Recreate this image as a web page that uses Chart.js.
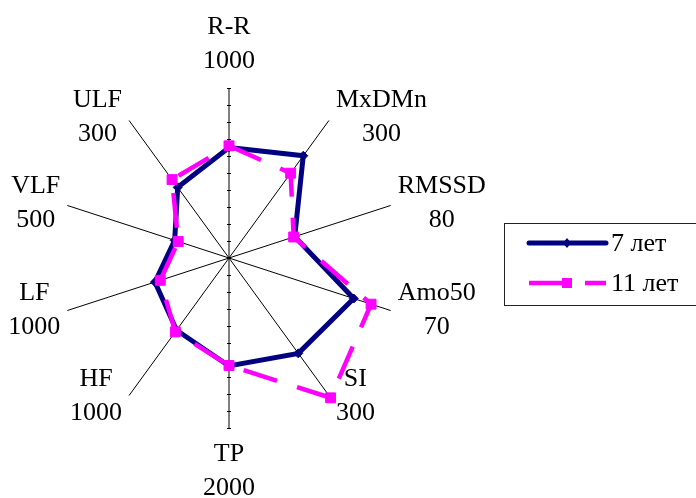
<!DOCTYPE html>
<html>
<head>
<meta charset="utf-8">
<script src="https://cdn.jsdelivr.net/npm/chart.js@4/dist/chart.umd.min.js"></script>
<style>
  html, body { margin: 0; padding: 0; background: #fff; }
</style>
</head>
<body>
<canvas id="radarChart" width="696" height="498"></canvas>
<script>
    const axisNames = ['R-R', 'MxDMn', 'RMSSD', 'Amo50', 'SI', 'TP', 'HF', 'LF', 'VLF', 'ULF'];
    const axisMax = [1000, 300, 80, 70, 300, 2000, 1000, 1000, 500, 300];
    const values7 = [650, 223, 32.5, 54, 208, 1270, 525, 458, 168, 154];
    const values11 = [660, 185, 32, 61.5, 305, 1265, 537, 425, 157, 171];
    const seriesNames = ['7 лет', '11 лет'];

    const labelFont = '26px "Liberation Serif", "Times New Roman", serif';

    // each axis has its own maximum, so plot share of that maximum
    const toShare = arr => arr.map((v, i) => v / axisMax[i]);

    function drawMarker(ctx, style, x, y, color) {
      ctx.fillStyle = color;
      ctx.beginPath();
      if (style === 'rectRot') {
        ctx.moveTo(x, y - 5); ctx.lineTo(x + 4, y); ctx.lineTo(x, y + 5); ctx.lineTo(x - 4, y);
        ctx.closePath();
      } else {
        ctx.rect(x - 5, y - 5, 10, 10);
      }
      ctx.fill();
    }

    const axisDecor = {
      id: 'axisDecor',
      beforeDatasetsDraw(chart) {
        const ctx = chart.ctx, r = chart.scales.r;
        ctx.save();
        ctx.strokeStyle = '#000';
        ctx.lineWidth = 1;
        // small tick marks on the vertical axis
        [0, 5].forEach(i => {
          for (let k = 1; k <= 10; k++) {
            const p = r.getPointPosition(i, r.drawingArea * k / 10);
            ctx.beginPath();
            ctx.moveTo(p.x - 2, Math.round(p.y) + 0.5);
            ctx.lineTo(p.x + 2, Math.round(p.y) + 0.5);
            ctx.stroke();
          }
        });
        ctx.restore();
      },
      afterDraw(chart) {
        const ctx = chart.ctx, r = chart.scales.r;
        ctx.save();
        ctx.font = labelFont;
        ctx.fillStyle = '#000';
        ctx.textBaseline = 'middle';
        ctx.textAlign = 'center';
        axisNames.forEach((name, i) => {
          const lines = [name, String(axisMax[i])];
          const a = i * 2 * Math.PI / axisNames.length;
          const s = Math.sin(a), c = Math.cos(a);
          const end = r.getPointPosition(i, r.drawingArea);
          const w = Math.max(...lines.map(t => ctx.measureText(t).width));
          let cx, cy;
          if (Math.abs(s) < 0.01) {
            cx = end.x;
            cy = c > 0 ? end.y - 44 : end.y + 43;
          } else {
            cx = s > 0 ? end.x + 7 + w / 2 : end.x - 7 - w / 2;
            cy = end.y - 1.5 - 2.5 * c;
          }
          ctx.fillText(lines[0], cx, cy - 17);
          ctx.fillText(lines[1], cx, cy + 17);
        });

        // legend box
        ctx.strokeStyle = '#222';
        ctx.lineWidth = 1;
        ctx.strokeRect(504.5, 223.5, 200, 82);
        const rows = [243, 283];
        chart.data.datasets.forEach((ds, k) => {
          const y = rows[k];
          ctx.save();
          ctx.strokeStyle = ds.borderColor;
          ctx.lineWidth = ds.borderWidth;
          ctx.lineCap = k === 0 ? 'round' : 'butt';
          ctx.setLineDash(ds.borderDash || []);
          ctx.beginPath();
          ctx.moveTo(529, y);
          ctx.lineTo(606, y);
          ctx.stroke();
          ctx.restore();
          drawMarker(ctx, ds.pointStyle, 567, y, ds.borderColor);
          ctx.fillStyle = '#000';
          ctx.textAlign = 'left';
          ctx.fillText(ds.label, 611, y + 1);
        });
        ctx.restore();
      }
    };

    const chart = new Chart(document.getElementById('radarChart'), {
      type: 'radar',
      data: {
        labels: axisNames,
        datasets: [{
          label: seriesNames[0],
          data: toShare(values7),
          borderColor: '#000080',
          borderWidth: 5,
          fill: false,
          tension: 0,
          pointStyle: 'rectRot',
          pointRadius: 4.5,
          pointBackgroundColor: '#000080',
          pointBorderColor: '#000080',
          pointBorderWidth: 1,
          order: 1,
          clip: false
        }, {
          label: seriesNames[1],
          data: toShare(values11),
          borderColor: '#ff00ff',
          borderWidth: 4.5,
          borderDash: [35, 21],
          fill: false,
          tension: 0,
          pointStyle: 'rect',
          pointRadius: 7,
          pointBackgroundColor: '#ff00ff',
          pointBorderColor: '#ff00ff',
          pointBorderWidth: 1,
          order: 0,
          clip: false
        }]
      },
      options: {
        responsive: false,
        animation: false,
        devicePixelRatio: 1,
        layout: { padding: { left: 59, top: 88, right: 297, bottom: 70 } },
        plugins: {
          legend: { display: false },
          tooltip: { enabled: false }
        },
        scales: {
          r: {
            min: 0,
            max: 1,
            ticks: { display: false, stepSize: 0.1 },
            grid: { display: false },
            angleLines: { display: true, color: '#000', lineWidth: 1 },
            pointLabels: { display: false }
          }
        }
      },
      plugins: [axisDecor]
    });
</script>
</body>
</html>
